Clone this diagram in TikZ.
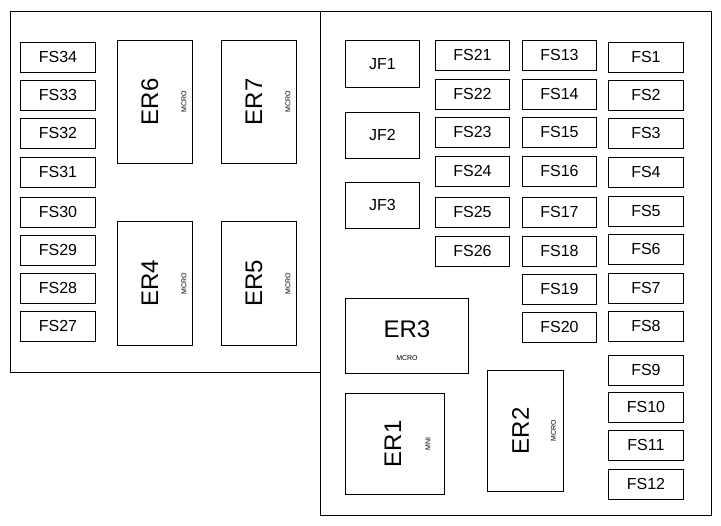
\documentclass[tikz,border=0pt]{standalone}
\usepackage{fontspec}
\setmainfont{Liberation Sans}
\begin{document}
\begin{tikzpicture}[x=1pt,y=-1pt,
  panel/.style={draw,line width=1pt},
  box/.style={draw,line width=0.9pt,anchor=north west,inner sep=0pt,font=\fontsize{16}{16}\selectfont},
  big/.style={font=\fontsize{24}{24}\selectfont,inner sep=0pt},
  small/.style={font=\fontsize{7}{7}\selectfont,inner sep=0pt}]
\useasboundingbox (0,0) rectangle (721,526);
\draw[panel] (10,12) rectangle (320,373);
\draw[panel] (320,12) rectangle (711,516);
\newcommand{\fs}[5]{\node[box,minimum width=#3,minimum height=#4] (#5) at (#1,#2) {#5};}
% left column
\foreach \n/\y in {FS34/42,FS33/80,FS32/118,FS31/157,FS30/197,FS29/235,FS28/273,FS27/311}{\fs{20}{\y}{75}{30}{\n}}
% right columns
\foreach \n/\y in {FS21/40,FS22/79,FS23/117,FS24/156,FS25/197,FS26/236}{\fs{435}{\y}{74}{30}{\n}}
\foreach \n/\y in {FS13/40,FS14/79,FS15/117,FS16/156,FS17/197,FS18/236,FS19/274,FS20/312}{\fs{522}{\y}{74}{30}{\n}}
\foreach \n/\y in {FS1/42,FS2/80,FS3/118,FS4/157,FS5/196,FS6/234,FS7/273,FS8/311,FS9/355,FS10/392,FS11/430,FS12/469}{\fs{608}{\y}{75}{30}{\n}}
\fs{345}{40}{74}{47}{JF1}
\fs{345}{112}{74}{46}{JF2}
\fs{345}{182}{74}{46}{JF3}
% ER boxes
\newcommand{\er}[6]{\node[box,minimum width=#3,minimum height=#4] (#5) at (#1,#2) {};
  \node[big,rotate=90] (#5t) at ([xshift=-5pt]#5.center) {#5};
  \node[small,rotate=90] (#5s) at ([xshift=#6]#5.center) {MCRO};}
\er{117}{40}{75}{123}{ER6}{29pt}
\er{221}{40}{75}{123}{ER7}{29pt}
\er{117}{221}{75}{124}{ER4}{29pt}
\er{221}{221}{75}{124}{ER5}{29pt}
\er{487}{370}{76}{121}{ER2}{28pt}
\node[box,minimum width=99,minimum height=101] (ER1) at (345,393) {};
\node[big,rotate=90] (ER1t) at ([xshift=-2pt]ER1.center) {ER1};
\node[small,rotate=90] (ER1s) at ([xshift=33pt]ER1.center) {MNI};
\node[box,minimum width=123,minimum height=75] (ER3) at (345,298) {};
\node[big] (ER3t) at ([yshift=7pt]ER3.center) {ER3};
\node[small] (ER3s) at ([yshift=-22pt]ER3.center) {MCRO};
\end{tikzpicture}
\end{document}
